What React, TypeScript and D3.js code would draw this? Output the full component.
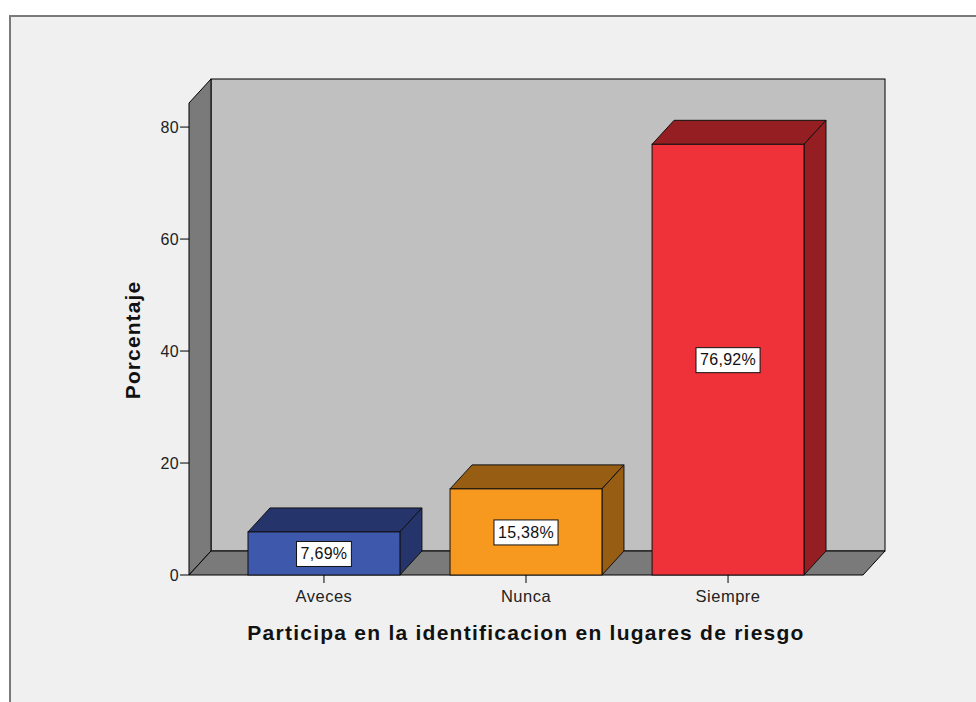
import React, { useEffect, useRef } from 'react';
import * as d3 from 'd3';

const categories = ['Aveces', 'Nunca', 'Siempre'];
const percentages = [7.69, 15.38, 76.92];
const valueLabels = ['7,69%', '15,38%', '76,92%'];
const yTicks = [0, 20, 40, 60, 80];
const frontColors = ['#3e58ac', '#f7991f', '#ef313a'];
const darkColors = ['#25356b', '#965d13', '#951e23'];

const width = 976;
const height = 702;

const App: React.FC = () => {
  const svgRef = useRef<SVGSVGElement>(null);

  useEffect(() => {
    if (!svgRef.current) return;
    const svg = d3.select(svgRef.current);
    svg.selectAll('*').remove();

    // plot frame (front plane) and depth offset
    const left = 189;
    const right = 863;
    const bottom = 575;
    const top = 103;
    const dx = 22;
    const dy = 24;
    const font = '"Liberation Sans", Arial, sans-serif';

    const x = d3
      .scaleBand<string>()
      .domain(categories)
      .range([left, right])
      .paddingInner(0.248)
      .paddingOuter(0.292);

    const y = d3.scaleLinear().domain([0, 84.3]).range([bottom, top]);

    // panel background
    svg
      .append('rect')
      .attr('x', 10)
      .attr('y', 16)
      .attr('width', width)
      .attr('height', height)
      .attr('fill', '#f0f0f0')
      .attr('stroke', '#7a7a7a')
      .attr('stroke-width', 2);

    const poly = (pts: [number, number][]) =>
      'M' + pts.map((p) => p.join(',')).join('L') + 'Z';

    // back wall
    svg
      .append('rect')
      .attr('x', left + dx)
      .attr('y', top - dy)
      .attr('width', right - left)
      .attr('height', bottom - top)
      .attr('fill', '#c0c0c0')
      .attr('stroke', '#000')
      .attr('stroke-width', 1);

    // left wall
    svg
      .append('path')
      .attr('d', poly([[left, top], [left + dx, top - dy], [left + dx, bottom - dy], [left, bottom]]))
      .attr('fill', '#7a7a7a')
      .attr('stroke', '#000')
      .attr('stroke-width', 1);

    // floor
    svg
      .append('path')
      .attr('d', poly([[left, bottom], [right, bottom], [right + dx, bottom - dy], [left + dx, bottom - dy]]))
      .attr('fill', '#7a7a7a')
      .attr('stroke', '#000')
      .attr('stroke-width', 1);

    // y axis
    const yAxis = svg.append('g');
    yTicks.forEach((t) => {
      yAxis
        .append('line')
        .attr('x1', left - 9)
        .attr('x2', left)
        .attr('y1', y(t))
        .attr('y2', y(t))
        .attr('stroke', '#000');
      yAxis
        .append('text')
        .attr('x', left - 10)
        .attr('y', y(t))
        .attr('dy', '0.35em')
        .attr('text-anchor', 'end')
        .attr('font-family', font)
        .attr('font-size', 16)
        .attr('letter-spacing', 0.3)
        .attr('fill', '#222')
        .text(t);
    });

    // bars
    const bars = svg.append('g');
    categories.forEach((c, i) => {
      const x0 = x(c)!;
      const x1 = x0 + x.bandwidth();
      const yt = y(percentages[i]);
      const g = bars.append('g').attr('stroke', '#111').attr('stroke-width', 1);
      g.append('path')
        .attr('d', poly([[x0, yt], [x0 + dx, yt - dy], [x1 + dx, yt - dy], [x1, yt]]))
        .attr('fill', darkColors[i]);
      g.append('path')
        .attr('d', poly([[x1, yt], [x1 + dx, yt - dy], [x1 + dx, bottom - dy], [x1, bottom]]))
        .attr('fill', darkColors[i]);
      g.append('rect')
        .attr('x', x0)
        .attr('y', yt)
        .attr('width', x1 - x0)
        .attr('height', bottom - yt)
        .attr('fill', frontColors[i]);
    });

    // value labels
    categories.forEach((c, i) => {
      const cx = x(c)! + x.bandwidth() / 2;
      const cy = (y(percentages[i]) + bottom) / 2;
      const lg = svg.append('g');
      const txt = lg
        .append('text')
        .attr('x', cx)
        .attr('y', cy)
        .attr('dy', '0.35em')
        .attr('text-anchor', 'middle')
        .attr('font-family', font)
        .attr('font-size', 16)
        .attr('letter-spacing', 0.3)
        .attr('fill', '#111')
        .text(valueLabels[i]);
      const w = (txt.node() as SVGTextElement).getComputedTextLength();
      lg.insert('rect', 'text')
        .attr('x', cx - w / 2 - 4)
        .attr('y', cy - 12)
        .attr('width', w + 8)
        .attr('height', 25)
        .attr('fill', '#fff')
        .attr('stroke', '#111');
    });

    // x axis
    const xAxis = svg.append('g');
    categories.forEach((c) => {
      const cx = x(c)! + x.bandwidth() / 2;
      xAxis
        .append('line')
        .attr('x1', cx)
        .attr('x2', cx)
        .attr('y1', bottom)
        .attr('y2', bottom + 8)
        .attr('stroke', '#000');
      xAxis
        .append('text')
        .attr('x', cx)
        .attr('y', bottom + 27)
        .attr('text-anchor', 'middle')
        .attr('font-family', font)
        .attr('font-size', 16.5)
        .attr('letter-spacing', 0.5)
        .attr('fill', '#222')
        .text(c);
    });

    // axis titles
    svg
      .append('text')
      .attr('x', (left + right) / 2)
      .attr('y', 640)
      .attr('text-anchor', 'middle')
      .attr('font-family', font)
      .attr('font-size', 21)
      .attr('font-weight', 'bold')
      .attr('letter-spacing', 1.25)
      .attr('fill', '#111')
      .text('Participa en la identificacion en lugares de riesgo');

    svg
      .append('text')
      .attr('transform', 'translate(140,340) rotate(-90)')
      .attr('text-anchor', 'middle')
      .attr('font-family', font)
      .attr('font-size', 21)
      .attr('font-weight', 'bold')
      .attr('letter-spacing', 1.1)
      .attr('fill', '#111')
      .text('Porcentaje');
  }, []);

  return (
    <svg
      ref={svgRef}
      width={width}
      height={height}
      style={{ position: 'absolute', left: 0, top: 0, background: '#fff' }}
    />
  );
};

export default App;
